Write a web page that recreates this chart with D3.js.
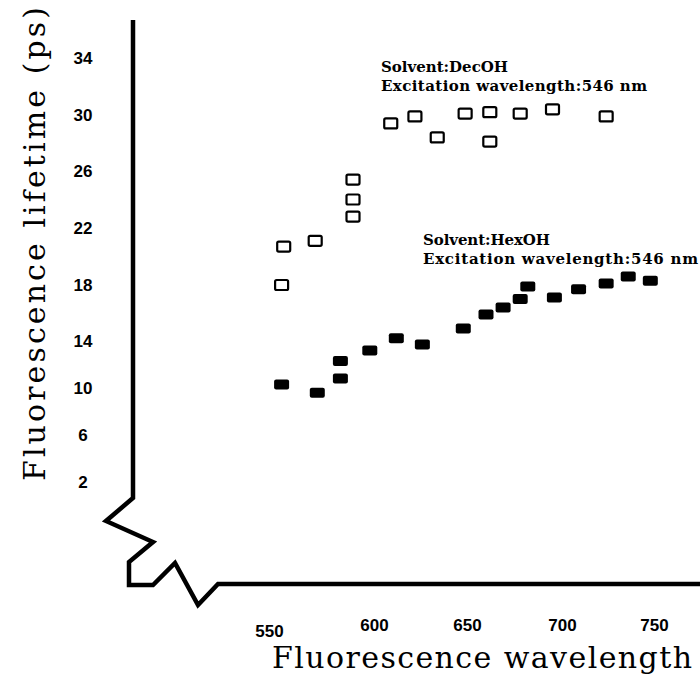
<!DOCTYPE html>
<html>
<head>
<meta charset="utf-8">
<script src="https://cdn.jsdelivr.net/npm/d3@7"></script>
<style>
  body { margin: 0; background: #fff; }
  svg { display: block; }
</style>
</head>
<body>
<div id="chart"></div>
<script>
// tick labels
const xTicks = [550, 600, 650, 700, 750];
const yTicks = [2, 6, 10, 14, 18, 22, 26, 30, 34];

// DecOH series (open squares)
const decWavelength = [556, 557, 572, 590, 590, 590, 609, 622, 634, 649, 662, 662, 678, 695, 724];
const decLifetime = [18.0, 20.7, 21.1, 22.8, 24.0, 25.4, 29.4, 29.9, 28.4, 30.1, 30.2, 28.1, 30.1, 30.4, 29.9];

// HexOH series (filled squares)
const hexWavelength = [556, 573, 584, 584, 598, 612, 626, 648, 660, 669, 678, 682, 696, 709, 724, 736, 748];
const hexLifetime = [10.3, 9.6, 10.8, 12.3, 13.2, 14.2, 13.7, 14.9, 15.9, 16.4, 17.0, 17.9, 17.1, 17.7, 18.1, 18.6, 18.3];

const labels = {
  dec: ["Solvent:DecOH", "Excitation wavelength:546 nm"],
  hex: ["Solvent:HexOH", "Excitation wavelength:546 nm"]
};

const width = 700, height = 681;

const svg = d3.select("#chart").append("svg")
  .attr("width", width)
  .attr("height", height);

// hand drawn axes: tick spacing is not quite even, so use piecewise scales
const x = d3.scaleLinear().domain(xTicks).range([269, 374, 467, 562, 654]);
const y = d3.scaleLinear().domain(yTicks).range([482, 435, 388, 341, 285, 228, 171, 115, 58]);

const axisX0 = 133;   // y axis position
const axisY0 = 584;   // x axis position

// axis lines with the zigzag break in the corner
const brk = d3.line();
svg.append("path")
  .attr("d", brk([
    [axisX0, 20], [axisX0, 498], [106, 521], [153, 542], [129, 562], [129, 585],
    [153, 585], [175, 563], [198, 605], [218, axisY0], [width, axisY0]
  ]))
  .attr("fill", "none")
  .attr("stroke", "#000")
  .attr("stroke-width", 4.5)
  .attr("stroke-linejoin", "miter");

// y axis ticks (labels only)
const gy = svg.append("g")
  .attr("transform", `translate(${axisX0},0)`)
  .call(d3.axisLeft(y).tickValues(yTicks).tickSize(0));
gy.select(".domain").remove();
gy.selectAll("text")
  .attr("x", -50)
  .attr("text-anchor", "middle")
  .attr("dy", "0.35em")
  .style("font-family", "'Liberation Sans', Arial, sans-serif")
  .style("font-weight", "bold")
  .style("font-size", "17px");

// x axis ticks
const gx = svg.append("g")
  .attr("transform", `translate(0,${axisY0})`)
  .call(d3.axisBottom(x).tickValues(xTicks).tickSize(0));
gx.select(".domain").remove();
gx.selectAll("text")
  .attr("y", 47)
  .attr("dy", d => d === 550 ? "0.35em" : "0")
  .style("font-family", "'Liberation Sans', Arial, sans-serif")
  .style("font-weight", "bold")
  .style("font-size", "17px");

// axis titles
svg.append("text")
  .attr("transform", "translate(45,481) rotate(-90)")
  .attr("textLength", 474)
  .attr("lengthAdjust", "spacing")
  .style("font-family", "'DejaVu Serif', serif")
  .style("font-size", "30px")
  .text("Fluorescence lifetime (ps)");

svg.append("text")
  .attr("x", 272)
  .attr("y", 668)
  .attr("textLength", 420)
  .attr("lengthAdjust", "spacing")
  .style("font-family", "'DejaVu Serif', serif")
  .style("font-size", "30px")
  .text("Fluorescence wavelength");

// markers
const decData = decWavelength.map((w, i) => ({ w: w, v: decLifetime[i] }));
const hexData = hexWavelength.map((w, i) => ({ w: w, v: hexLifetime[i] }));

svg.append("g").selectAll("rect")
  .data(decData)
  .enter().append("rect")
  .attr("x", d => x(d.w) - 6.5)
  .attr("y", d => y(d.v) - 5)
  .attr("width", 13)
  .attr("height", 10)
  .attr("rx", 1.5)
  .attr("fill", "#fff")
  .attr("stroke", "#000")
  .attr("stroke-width", 2.2);

svg.append("g").selectAll("rect")
  .data(hexData)
  .enter().append("rect")
  .attr("x", d => x(d.w) - 7.5)
  .attr("y", d => y(d.v) - 5)
  .attr("width", 15)
  .attr("height", 10)
  .attr("rx", 2)
  .attr("fill", "#000");

// annotations
function note(lines, x0, y0, w1, w2) {
  const t = svg.append("text")
    .style("font-family", "'DejaVu Serif', serif")
    .style("font-weight", "bold")
    .style("font-size", "15px");
  t.append("tspan").attr("x", x0).attr("y", y0)
    .attr("textLength", w1).attr("lengthAdjust", "spacing")
    .text(lines[0]);
  t.append("tspan").attr("x", x0).attr("y", y0 + 19)
    .attr("textLength", w2).attr("lengthAdjust", "spacing")
    .text(lines[1]);
}
note(labels.dec, 381, 72, 127, 266);
note(labels.hex, 423, 245, 127, 275);
</script>
</body>
</html>
